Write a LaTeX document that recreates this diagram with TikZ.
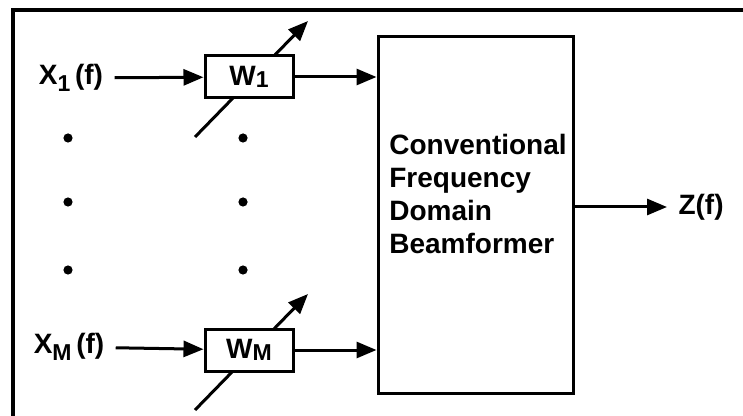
\documentclass[tikz,border=0pt]{standalone}
\usepackage{fontspec}
\setmainfont{Liberation Sans}
\usepackage{tikz}
\usetikzlibrary{arrows.meta,positioning,calc,backgrounds}
\definecolor{ink}{RGB}{0,0,0}
\newcommand{\lowidx}[2][-0.26em]{\raisebox{#1}{\fontsize{11.5}{11.5}\selectfont #2}}

\begin{document}
\begin{tikzpicture}[x=0.5pt,y=-0.5pt,line width=1.5pt,draw=ink,
    >={Triangle[length=10pt,width=8pt]},
    font=\fontsize{14}{16.5}\selectfont\bfseries,
    wbox/.style={draw,fill=white,minimum width=44pt,minimum height=21pt,inner sep=0pt},
    lbl/.style={inner sep=5pt},
    slant/.style={->,line width=1.5pt}]
    \useasboundingbox (0,0) rectangle (743,416);
    % frame, cut off at right and bottom
    \draw[line width=2pt] (13,416) -- (13,10) -- (743,10);
    % weights
    \node[wbox] (w1) at (249,77) {W\lowidx[-0.05em]{1}};
    \node[wbox] (wm) at (249,350) {W\lowidx[-0.05em]{M}};
    \node[lbl] (x1) at (71,78) {X\lowidx{1}\,(f)};
    \node[lbl] (xm) at (69,347) {X\lowidx{M}\,(f)};
    % beamformer
    \node[draw,minimum width=97.5pt,minimum height=178pt] (bf) at (475.5,215) {};
    \node[align=left] (bftxt) at (478,194) {Conventional\\Frequency\\Domain\\Beamformer};
    \node[lbl,anchor=west] (z) at (667,207) {Z(f)};
    % adjustable weight arrows
    \begin{scope}[on background layer]
      \foreach \w in {w1,wm}
        \draw[slant] ($(\w.center)+(-54,60)$) -- ($(\w.center)+(59,-56)$);
    \end{scope}
    \draw[->] (x1) -- (w1);
    \draw[->] (xm) -- (wm);
    \draw[->] (w1) -- (w1 -| bf.west);
    \draw[->] (wm) -- (wm -| bf.west);
    \draw[->] (bf.east |- z.west) -- (z.west);
    % dots
    \foreach \px in {68,243}
      \foreach \py in {138,202,270}
        \fill (\px,\py) circle (2.3pt);
\end{tikzpicture}
\end{document}
